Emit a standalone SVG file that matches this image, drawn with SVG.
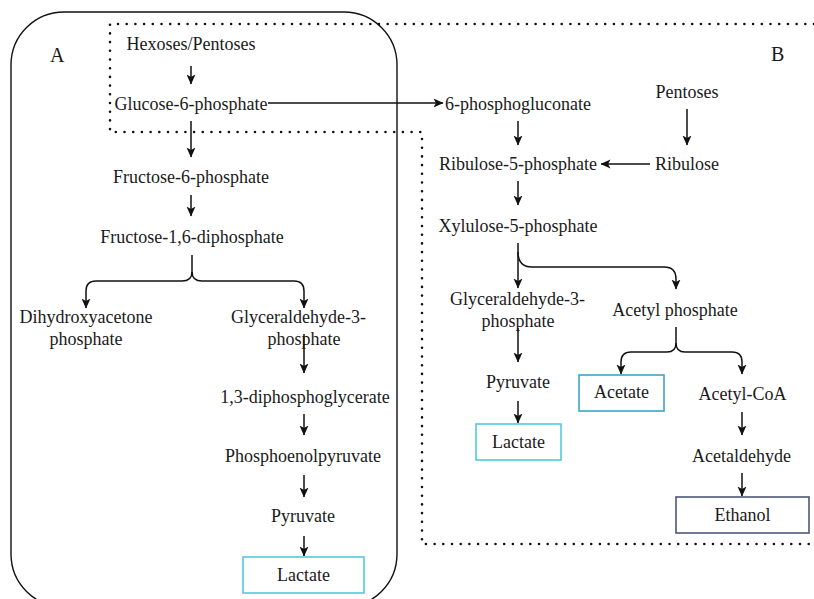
<svg xmlns="http://www.w3.org/2000/svg" width="814" height="599" viewBox="0 0 814 599">
<style>
text{font-family:"Liberation Serif","Times New Roman",serif;font-size:18px;fill:#1a1a1a;text-anchor:middle}
.lbl{font-size:20px;text-anchor:start}
.c{fill:none;stroke:#111;stroke-width:1.5}
.dot{fill:none;stroke:#111;stroke-width:2.6;stroke-linecap:round;stroke-dasharray:0 8.7}
.box{fill:#fff;stroke-width:1.6}
</style>
<defs>
<marker id="ah" viewBox="0 0 10 10" refX="9.5" refY="5" markerWidth="10" markerHeight="10" markerUnits="userSpaceOnUse" orient="auto">
<path d="M0,0.5 L10,5 L0,9.5 L2.5,5 z" fill="#111"/>
</marker>
</defs>
<rect id="regionA" x="11" y="12" width="386" height="595" rx="53" ry="53" fill="none" stroke="#111" stroke-width="1.4"/>
<path id="regionB" class="dot" d="M814,24 H110 V132 H422 V544 H814"/>
<text class="lbl" x="50" y="62">A</text>
<text class="lbl" x="771" y="61">B</text>
<g id="connectors">
<path class="c" d="M191,66 V84" marker-end="url(#ah)"/>
<path class="c" d="M268,103 H443" marker-end="url(#ah)"/>
<path class="c" d="M191,121 V157" marker-end="url(#ah)"/>
<path class="c" d="M191,195 V216" marker-end="url(#ah)"/>
<path class="c" d="M192,255 V272 Q192,281 182,281 H96 Q86,281 86,291 V308" marker-end="url(#ah)"/>
<path class="c" d="M192,272 Q192,281 202,281 H294 Q304,281 304,291 V308" marker-end="url(#ah)"/>
<path class="c" d="M304,334 V373" marker-end="url(#ah)"/>
<path class="c" d="M304,414 V435" marker-end="url(#ah)"/>
<path class="c" d="M304,475 V497" marker-end="url(#ah)"/>
<path class="c" d="M304,536 V556" marker-end="url(#ah)"/>
<path class="c" d="M518,121 V145" marker-end="url(#ah)"/>
<path class="c" d="M687,109 V145" marker-end="url(#ah)"/>
<path class="c" d="M650,164 H601" marker-end="url(#ah)"/>
<path class="c" d="M518,181 V205" marker-end="url(#ah)"/>
<path class="c" d="M518,243 V288" marker-end="url(#ah)"/>
<path class="c" d="M518,252 Q518,267 532,267 H664 Q676,267 676,279 V289" marker-end="url(#ah)"/>
<path class="c" d="M518,328 V362" marker-end="url(#ah)"/>
<path class="c" d="M518,401 V423" marker-end="url(#ah)"/>
<path class="c" d="M676,327 V343 Q676,352 667,352 H631 Q621,352 621,362 V374" marker-end="url(#ah)"/>
<path class="c" d="M676,343 Q676,352 685,352 H732 Q742,352 742,362 V374" marker-end="url(#ah)"/>
<path class="c" d="M742,412 V435" marker-end="url(#ah)"/>
<path class="c" d="M742,473 V496" marker-end="url(#ah)"/>
</g>
<g id="hexoses"><text x="191" y="50">Hexoses/Pentoses</text></g>
<g id="g6p"><text x="191" y="110">Glucose-6-phosphate</text></g>
<g id="f6p"><text x="191" y="183">Fructose-6-phosphate</text></g>
<g id="f16dp"><text x="192" y="243">Fructose-1,6-diphosphate</text></g>
<g id="dhap"><text x="86" y="323">Dihydroxyacetone</text><text x="86" y="345">phosphate</text></g>
<g id="g3pA"><text x="298.5" y="323">Glyceraldehyde-3-</text><text x="304" y="345">phosphate</text></g>
<g id="bpg"><text x="305" y="403">1,3-diphosphoglycerate</text></g>
<g id="pep"><text x="303" y="462">Phosphoenolpyruvate</text></g>
<g id="pyrA"><text x="303" y="522">Pyruvate</text></g>
<g id="lacA"><rect class="box" x="243" y="557" width="121" height="36" stroke="#4fcbdc"/><text x="303.5" y="581">Lactate</text></g>
<g id="pentoses"><text x="687" y="98">Pentoses</text></g>
<g id="pg6"><text x="518" y="110">6-phosphogluconate</text></g>
<g id="ru5p"><text x="518" y="170">Ribulose-5-phosphate</text></g>
<g id="ribulose"><text x="687" y="170">Ribulose</text></g>
<g id="xu5p"><text x="518" y="232">Xylulose-5-phosphate</text></g>
<g id="g3pB"><text x="517.5" y="305">Glyceraldehyde-3-</text><text x="518" y="327">phosphate</text></g>
<g id="acp"><text x="675" y="316">Acetyl phosphate</text></g>
<g id="pyrB"><text x="518" y="388">Pyruvate</text></g>
<g id="acetate"><rect class="box" x="579" y="375" width="85" height="36" stroke="#3da4c9"/><text x="621.5" y="398">Acetate</text></g>
<g id="acoa"><text x="742.5" y="400">Acetyl-CoA</text></g>
<g id="lacB"><rect class="box" x="476" y="424" width="85" height="36" stroke="#4fcbdc"/><text x="518.5" y="448">Lactate</text></g>
<g id="acald"><text x="741.5" y="462">Acetaldehyde</text></g>
<g id="ethanol"><rect class="box" x="676" y="497" width="133" height="36" stroke="#4b5878"/><text x="742.5" y="521">Ethanol</text></g>
</svg>
